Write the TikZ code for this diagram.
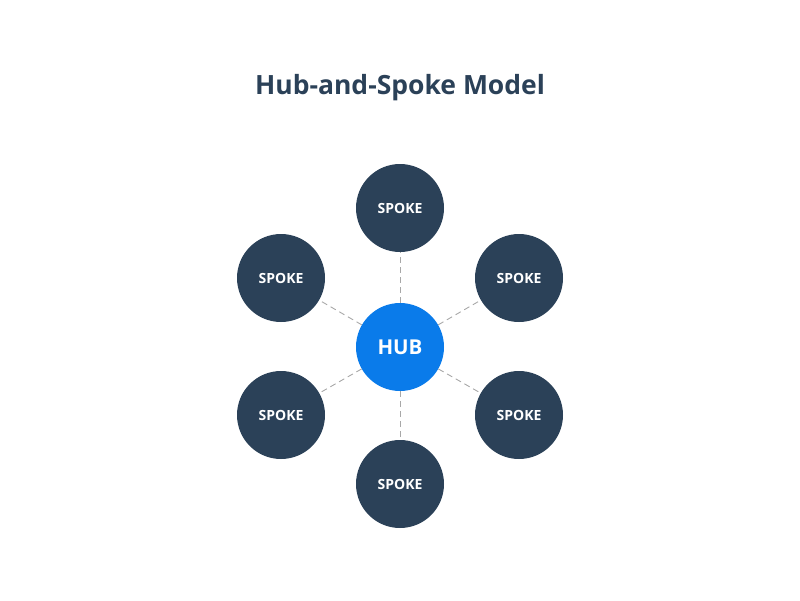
\documentclass[tikz,border=0pt]{standalone}
\usepackage{fontspec}
\setmainfont{Open Sans}
\definecolor{navy}{HTML}{2B4158}
\definecolor{hubblue}{HTML}{0A7BEA}
\definecolor{linegray}{HTML}{A8A8A8}
\begin{document}
\begin{tikzpicture}[x=1pt,y=-1pt,
  spoke/.style={circle,fill=navy,minimum size=88pt,inner sep=0pt,text=white,font=\fontsize{14}{16}\selectfont\bfseries},
  hub/.style={circle,fill=hubblue,minimum size=88pt,inner sep=0pt,text=white,font=\fontsize{20.5}{24}\selectfont\bfseries},
  link/.style={draw=linegray,dashed,dash pattern=on 6pt off 4pt,line width=0.9pt}]
\useasboundingbox (0,0) rectangle (800,600);
\node[font=\fontsize{26.5}{30}\selectfont\bfseries,text=navy] (title) at (400,88) {Hub-and-Spoke Model};
\node[hub] (hub) at (400,347) {HUB};
\node[spoke] (s1) at (400,208) {SPOKE};
\node[spoke] (s2) at (519,278) {SPOKE};
\node[spoke] (s3) at (519,415) {SPOKE};
\node[spoke] (s4) at (400,484) {SPOKE};
\node[spoke] (s5) at (281,415) {SPOKE};
\node[spoke] (s6) at (281,278) {SPOKE};
\foreach \s in {s1,s2,s3,s4,s5,s6} \draw[link] (hub) -- (\s);
\end{tikzpicture}
\end{document}
